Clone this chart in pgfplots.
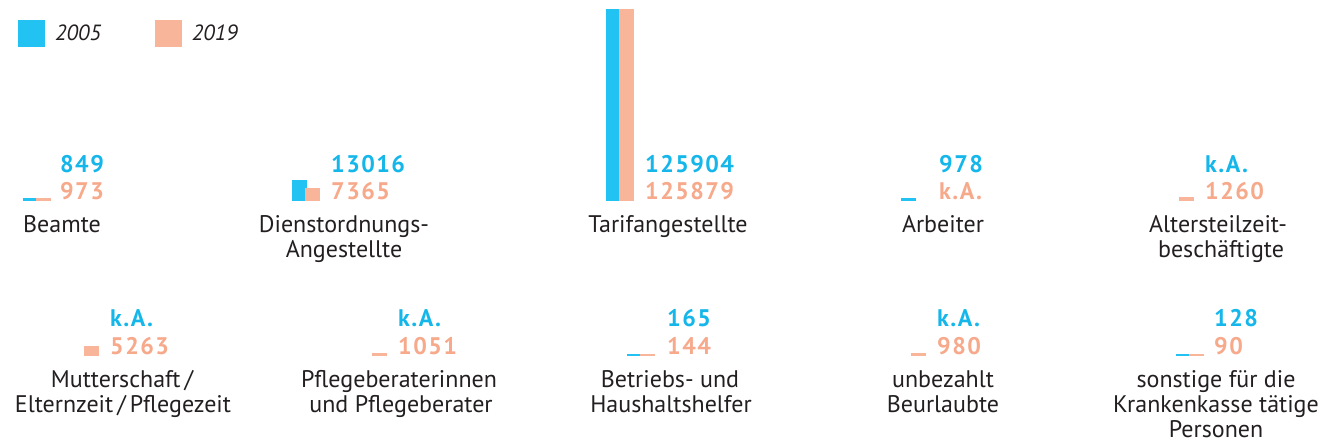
\documentclass[border=0pt]{standalone}
\usepackage{fontspec}
\setmainfont{PT Sans}
\newfontfamily\numfont[LetterSpace=6]{PT Sans}
\usepackage{pgfplots}
\pgfplotsset{compat=1.18}
\definecolor{cbar}{HTML}{22C3F3}
\definecolor{sbar}{HTML}{F9B59A}
\definecolor{ctext}{HTML}{15B6EA}
\definecolor{stext}{HTML}{F6A98B}
\definecolor{labc}{HTML}{231F20}
\newcommand{\g}{\kern1.5pt}
\newcommand{\lab}[3]{\node[anchor=base, inner sep=0pt, text=labc, font=\fontsize{24}{27}\selectfont] at ({#1*1pt},{(443-#2)*1pt}) {#3};}
\newcommand{\val}[4]{\node[anchor=base west, inner sep=0pt, text=#3, font=\numfont\bfseries\fontsize{24}{27}\selectfont] at ({#1*1pt},{(443-#2)*1pt}) {#4};}
\pgfplotsset{
  panel/.style={
    scale only axis, width=1322pt, xmin=0, xmax=1322, ymin=0,
    hide axis, clip=false, anchor=south west,
  },
  cb/.style={ybar, bar width=13pt, bar shift=0pt, fill=cbar, draw=cbar, line width=1.2pt},
  sb/.style={ybar, bar width=13pt, bar shift=0pt, fill=sbar, draw=sbar, line width=1.2pt},
}
\begin{document}
\begin{tikzpicture}
\path[use as bounding box] (0,0) rectangle (1322pt,443pt);
% Row 1: baseline at pixel 200
\begin{axis}[panel, at={(0pt,243pt)}, height=200pt, ymax=132530.5,
  legend style={draw=none, fill=none, at={(rel axis cs:0.013616,0.9)}, anchor=north west,
    legend columns=2, inner sep=0pt, font=\itshape\fontsize{22}{24}\selectfont, text=labc,
    nodes={inner sep=0pt},
    /tikz/every odd column/.append style={column sep=10pt},
    /tikz/every even column/.append style={column sep=54pt}},
  legend cell align=left,
  legend image code/.code={\fill[#1, draw=none] (0pt,-13.5pt) rectangle (27pt,13.5pt);},
]
\addplot[cb] coordinates {(30.5,849) (299.5,13016) (613.5,125904) (908.5,978)};
\addlegendentry{2005}
\addplot[sb] coordinates {(43.5,973) (312.5,7365) (626.5,125879) (1186.5,1260)};
\addlegendentry{2019}
\end{axis}
% Row 2: baseline at pixel 355
\begin{axis}[panel, at={(0pt,88pt)}, height=100pt, ymax=66265.3]
\addplot[cb] coordinates {(634.5,165) (1183.5,128)};
\addplot[sb] coordinates {(91.5,5263) (379.5,1051) (647.5,144) (918.5,980) (1196.5,90)};
\end{axis}
% values row 1
\val{60}{173}{ctext}{849}      \val{60}{200}{stext}{973}
\val{331}{173}{ctext}{13\g016} \val{331}{200}{stext}{7\g365}
\val{645}{173}{ctext}{125\g904}\val{645}{200}{stext}{125\g879}
\val{939}{173}{ctext}{978}     \val{939}{200}{stext}{k.\g A.}
\val{1205}{173}{ctext}{k.\g A.} \val{1205}{200}{stext}{1\g260}
% values row 2
\val{110}{327}{ctext}{k.\g A.}  \val{110}{355}{stext}{5\g263}
\val{398}{327}{ctext}{k.\g A.}  \val{398}{355}{stext}{1\g051}
\val{667}{327}{ctext}{165}     \val{667}{355}{stext}{144}
\val{937}{327}{ctext}{k.\g A.}  \val{937}{355}{stext}{980}
\val{1214}{327}{ctext}{128}    \val{1214}{355}{stext}{90}
% labels row 1
\lab{62}{233}{Beamte}
\lab{344}{233}{Dienstordnungs-}\lab{344}{258}{Angestellte}
\lab{668}{233}{Tarifangestellte}
\lab{943}{233}{Arbeiter}
\lab{1218}{233}{Altersteilzeit-}\lab{1221}{258}{beschäftigte}
% labels row 2
\lab{122}{388}{Mutterschaft\,/}\lab{123}{413}{Elternzeit\,/\,Pflegezeit}
\lab{399}{388}{Pflegeberaterinnen}\lab{401}{413}{und Pflegeberater}
\lab{670}{388}{Betriebs- und}\lab{671}{413}{Haushaltshelfer}
\lab{943}{388}{unbezahlt}\lab{943}{413}{Beurlaubte}
\lab{1216}{388}{sonstige für die}\lab{1216}{413}{Krankenkasse tätige}\lab{1216}{438}{Personen}
\end{tikzpicture}
\end{document}
